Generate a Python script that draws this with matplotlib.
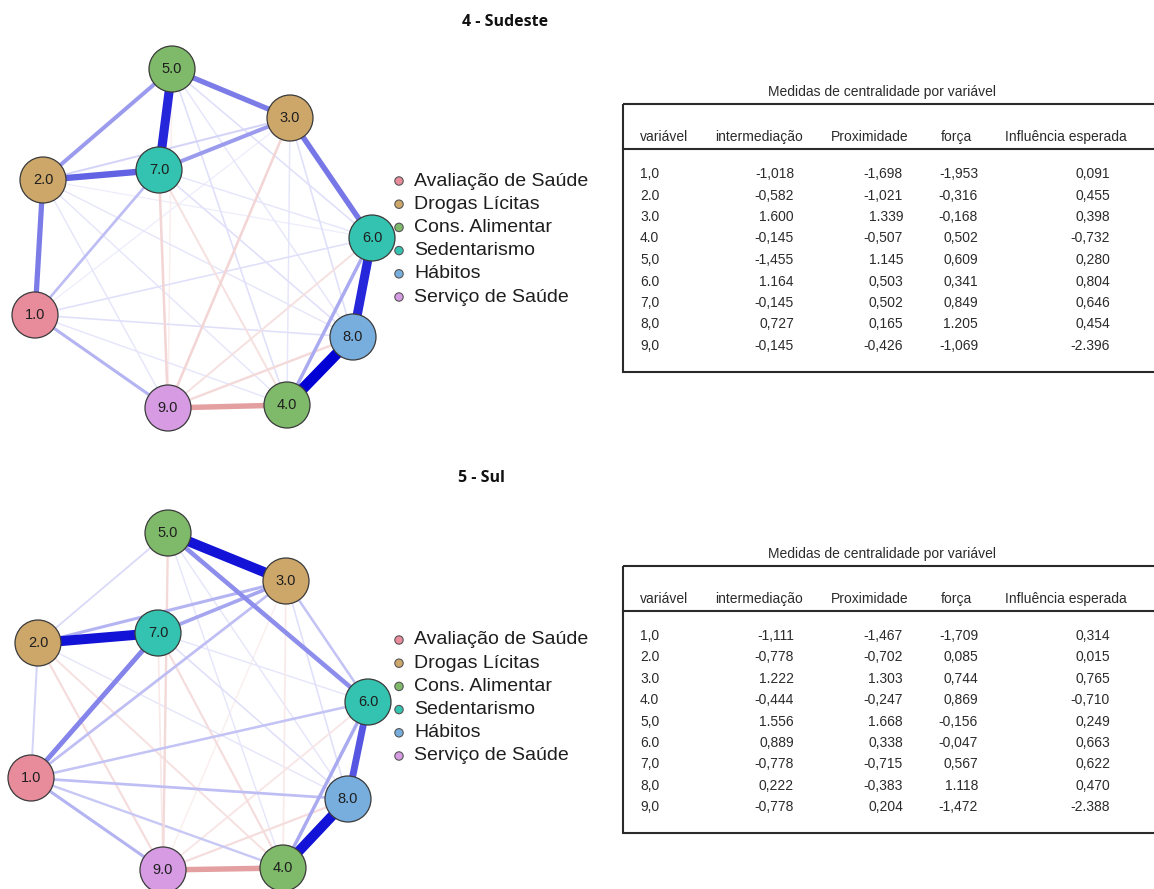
import matplotlib
matplotlib.use("Agg")
import matplotlib.pyplot as plt
from matplotlib.patches import Circle, Rectangle

# ---------------------------------------------------------------- data
node_ids = [1, 2, 3, 4, 5, 6, 7, 8, 9]
node_labels = ["1.0", "2.0", "3.0", "4.0", "5.0", "6.0", "7.0", "8.0", "9.0"]
node_group = ["Avaliação de Saúde", "Drogas Lícitas", "Drogas Lícitas",
              "Cons. Alimentar", "Cons. Alimentar", "Sedentarismo",
              "Sedentarismo", "Hábitos", "Serviço de Saúde"]
groups = ["Avaliação de Saúde", "Drogas Lícitas", "Cons. Alimentar",
          "Sedentarismo", "Hábitos", "Serviço de Saúde"]

# partial correlations (node a, node b, weight)
edges_sudeste = [
    (4, 8, 0.55), (6, 8, 0.45), (5, 7, 0.45), (2, 7, 0.30), (3, 6, 0.25),
    (5, 3, 0.24), (1, 2, 0.24), (2, 5, 0.17), (3, 7, 0.17), (1, 9, 0.12),
    (1, 7, 0.10), (4, 6, 0.14), (2, 3, 0.06),
    (4, 9, -0.25), (3, 9, -0.09), (7, 9, -0.09), (8, 9, -0.08),
    (6, 9, -0.06), (4, 7, -0.06), (5, 9, -0.03),
    (5, 6, 0.04), (5, 4, 0.04), (5, 8, 0.03), (3, 8, 0.04), (3, 4, 0.03),
    (1, 6, 0.04), (1, 8, 0.04), (1, 4, 0.03), (2, 4, 0.03), (2, 8, 0.03),
    (2, 9, 0.03), (7, 8, 0.04), (7, 6, 0.03), (2, 6, 0.02), (1, 3, 0.02),
]
edges_sul = [
    (4, 8, 0.50), (2, 7, 0.50), (5, 3, 0.50), (6, 8, 0.33), (5, 6, 0.20),
    (1, 7, 0.22), (3, 7, 0.15), (2, 3, 0.12), (1, 3, 0.10), (4, 6, 0.14),
    (3, 6, 0.09), (1, 9, 0.12), (1, 8, 0.10), (1, 6, 0.09), (1, 4, 0.08),
    (1, 2, 0.06), (2, 5, 0.05),
    (4, 9, -0.25), (5, 9, -0.08), (2, 9, -0.07), (2, 4, -0.06),
    (7, 4, -0.07), (8, 9, -0.07), (6, 9, -0.05), (3, 4, -0.04),
    (3, 9, -0.03), (7, 9, -0.04),
    (7, 8, 0.04), (5, 8, 0.03), (5, 4, 0.03), (2, 8, 0.03), (3, 8, 0.04),
    (6, 7, 0.03),
]

table_title = "Medidas de centralidade por variável"
table_header = ["variável", "intermediação", "Proximidade", "força",
                "Influência esperada"]
variavel = ["1,0", "2.0", "3.0", "4.0", "5,0", "6.0", "7,0", "8,0", "9,0"]

sudeste_intermediacao = ["-1,018", "-0,582", "1.600", "-0,145", "-1,455",
                         "1.164", "-0,145", "0,727", "-0,145"]
sudeste_proximidade = ["-1,698", "-1,021", "1.339", "-0,507", "1.145",
                       "0,503", "0,502", "0,165", "-0,426"]
sudeste_forca = ["-1,953", "-0,316", "-0,168", "0,502", "0,609",
                 "0,341", "0,849", "1.205", "-1,069"]
sudeste_influencia = ["0,091", "0,455", "0,398", "-0,732", "0,280",
                      "0,804", "0,646", "0,454", "-2.396"]

sul_intermediacao = ["-1,111", "-0,778", "1.222", "-0,444", "1.556",
                     "0,889", "-0,778", "0,222", "-0,778"]
sul_proximidade = ["-1,467", "-0,702", "1.303", "-0,247", "1.668",
                   "0,338", "-0,715", "-0,383", "0,204"]
sul_forca = ["-1,709", "0,085", "0,744", "0,869", "-0,156",
             "-0,047", "0,567", "1.118", "-1,472"]
sul_influencia = ["0,314", "0,015", "0,765", "-0,710", "0,249",
                  "0,663", "0,622", "0,470", "-2.388"]

# ---------------------------------------------------------------- style
group_colors = {
    "Avaliação de Saúde": "#E88C9C",
    "Drogas Lícitas": "#CDA76A",
    "Cons. Alimentar": "#7FBA6A",
    "Sedentarismo": "#33C3B0",
    "Hábitos": "#78AEDE",
    "Serviço de Saúde": "#D69BE3",
}
POS_BASE = (0.0, 0.0, 0.83)
NEG_BASE = (0.80, 0.30, 0.30)
WMAX = 0.55
NODE_R = 23
SANS = ["Liberation Sans", "DejaVu Sans"]
TXT = "#2b2b2b"

# spring-layout node coordinates (pixel space of the canvas)
layout_sudeste = {5: (172, 69), 3: (290, 118), 7: (159, 170), 2: (43, 180),
                  6: (372, 238), 1: (35, 315), 8: (353, 337), 9: (168, 408),
                  4: (287, 405)}
layout_sul = {5: (168, 533), 3: (286, 581), 7: (158, 633), 2: (38, 643),
              6: (368, 702), 1: (31, 778), 8: (348, 799), 9: (163, 870),
              4: (283, 868)}

W, H = 1154, 889
fig = plt.figure(figsize=(W / 100, H / 100), dpi=100)
ax = fig.add_axes([0, 0, 1, 1])
ax.set_xlim(0, W)
ax.set_ylim(H, 0)
ax.set_aspect("equal")
ax.axis("off")

PX = 0.72  # points per pixel at 100 dpi


def edge_style(w):
    t = min(abs(w) / WMAX, 1.0)
    f = t ** 0.8
    base = POS_BASE if w > 0 else NEG_BASE
    col = tuple(1 - f + b * f for b in base)
    return col, (0.9 + 10.0 * t) * PX


def draw_network(pos, edges):
    for a, b, w in sorted(edges, key=lambda e: abs(e[2])):
        col, lw = edge_style(w)
        (x0, y0), (x1, y1) = pos[a], pos[b]
        ax.plot([x0, x1], [y0, y1], color=col, lw=lw,
                solid_capstyle="butt", zorder=1 + abs(w))
    for nid, lab, grp in zip(node_ids, node_labels, node_group):
        x, y = pos[nid]
        ax.add_patch(Circle((x, y), NODE_R, facecolor=group_colors[grp],
                            edgecolor="#3a3a3a", lw=0.9, zorder=5))
        ax.text(x, y, lab, ha="center", va="center", fontsize=10.5,
                family=SANS, color="#1e1e1e", zorder=6)


def draw_legend(x, y0, step):
    for i, g in enumerate(groups):
        y = y0 + i * step
        ax.add_patch(Circle((x, y), 4.2, facecolor=group_colors[g],
                            edgecolor="#555555", lw=0.8, zorder=8))
        ax.text(x + 15, y, g, ha="left", va="center", fontsize=14,
                family=SANS, color="#1e1e1e", zorder=8)


def draw_table(top, bottom, header_y, line_y, row0, row_step, cols):
    left = 623
    ax.text(882, top - 12, table_title, ha="center", va="center",
            fontsize=10, family=SANS, color=TXT)
    ax.add_patch(Rectangle((left, top), W + 20 - left, bottom - top,
                           fill=False, edgecolor="#2a2a2a", lw=1.5,
                           zorder=3))
    ax.plot([left, W + 20], [line_y, line_y], color="#2a2a2a", lw=1.5,
            zorder=3)
    hx = [(640, "left"), (759, "center"), (870, "center"), (956, "center"),
          (1005, "left")]
    for (x, ha), h in zip(hx, table_header):
        ax.text(x, header_y, h, ha=ha, va="center", fontsize=10,
                family=SANS, color=TXT)
    cx = [(640, "left"), (794, "right"), (903, "right"), (978, "right"),
          (1110, "right")]
    for i in range(len(variavel)):
        y = row0 + i * row_step
        for (x, ha), col in zip(cx, cols):
            ax.text(x, y, col[i], ha=ha, va="center", fontsize=10,
                    family=SANS, color=TXT)


# ---------------------------------------------------------------- panels
ax.text(548, 22, "4 - Sudeste", ha="right", va="center", fontsize=11.5,
        fontweight="bold", family=["Open Sans", "DejaVu Sans"], color="#111")
ax.text(505, 478, "5 - Sul", ha="right", va="center", fontsize=11.5,
        fontweight="bold", family=["Open Sans", "DejaVu Sans"], color="#111")

draw_network(layout_sudeste, edges_sudeste)
draw_network(layout_sul, edges_sul)

draw_legend(399, 181, 23.2)
draw_legend(399, 640, 23.2)

draw_table(104, 372, 137, 149, 174, 21.5,
           [variavel, sudeste_intermediacao, sudeste_proximidade,
            sudeste_forca, sudeste_influencia])
draw_table(566, 833, 599, 611, 636, 21.4,
           [variavel, sul_intermediacao, sul_proximidade,
            sul_forca, sul_influencia])

fig.savefig("out.png", dpi=100, facecolor="white")
